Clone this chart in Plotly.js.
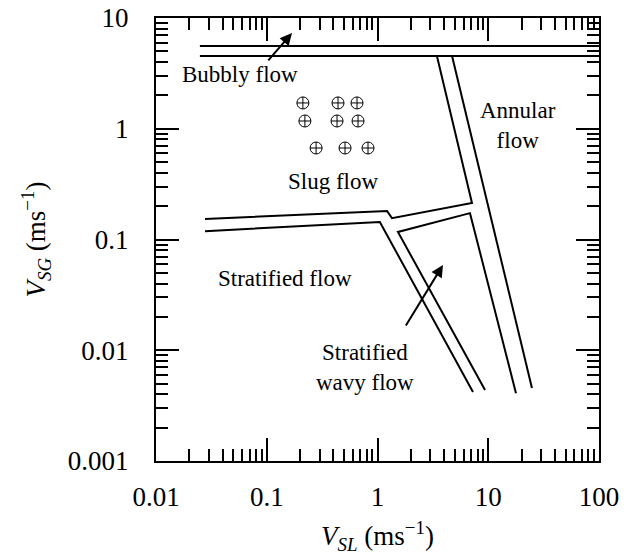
<!DOCTYPE html>
<html>
<head>
<meta charset="utf-8">
<script src="https://cdn.plot.ly/plotly-3.0.1.min.js"></script>
<style>html,body{margin:0;padding:0;background:#fff;}</style>
</head>
<body>
<div id="chart" style="width:634px;height:555px;"></div>
<script>
// Boundary lines (VSL, VSG in m/s)
const bubblyUpperX = [0.0249, 100];
const bubblyUpperY = [5.59, 5.59];
const bubblyLowerX = [0.0249, 100];
const bubblyLowerY = [4.54, 4.54];
const slugUpperX = [0.0277, 1.22, 1.35, 7.13, 3.44];
const slugUpperY = [0.153, 0.181, 0.156, 0.214, 4.54];
const stratLowerX = [0.0277, 1.05, 7.28];
const stratLowerY = [0.119, 0.144, 0.0042];
const wavyX = [9.35, 1.53, 6.84, 17.8];
const wavyY = [0.00437, 0.117, 0.173, 0.0041];
const annularX = [4.71, 24.8];
const annularY = [4.54, 0.00456];
// Data points (circle-cross symbols)
const pointsX = [0.212, 0.44, 0.653, 0.221, 0.431, 0.667, 0.279, 0.509, 0.821];
const pointsY = [1.71, 1.71, 1.71, 1.175, 1.175, 1.175, 0.67, 0.67, 0.67];
// Tick labels
const xTickVals = [0.01, 0.1, 1, 10, 100];
const xTickText = ["0.01", "0.1", "1", "10", "100"];
const yTickVals = [0.001, 0.01, 0.1, 1, 10];
const yTickText = ["0.001", "0.01", "0.1", "1", "10"];
// Region labels
const labelText = ["Bubbly flow", "Annular<br>flow", "Slug flow", "Stratified flow", "Stratified<br>wavy flow"];
const labelX = [0.0573, 18.6, 0.396, 0.146, 0.771];
const labelY = [3.06, 1.06, 0.337, 0.0449, 0.00692];
// Arrows
const arrowTailX = [0.1005, 1.77];
const arrowTailY = [4.01, 0.0162];
const arrowHeadX = [0.169, 3.90];
const arrowHeadY = [7.32, 0.0589];

const serif = "Liberation Serif";
const lineStyle = {color: "black", width: 2};
function lineTrace(x, y) {
  return {x: x, y: y, type: "scatter", mode: "lines", line: lineStyle, hoverinfo: "skip", showlegend: false};
}
const traces = [
  lineTrace(bubblyUpperX, bubblyUpperY),
  lineTrace(bubblyLowerX, bubblyLowerY),
  lineTrace(slugUpperX, slugUpperY),
  lineTrace(stratLowerX, stratLowerY),
  lineTrace(wavyX, wavyY),
  lineTrace(annularX, annularY),
  {x: pointsX, y: pointsY, type: "scatter", mode: "markers", showlegend: false,
   marker: {symbol: "circle-cross-open", size: 12, color: "black", line: {width: 1, color: "black"}}}
];

const annotations = [];
for (let i = 0; i < labelText.length; i++) {
  annotations.push({x: Math.log10(labelX[i]), y: Math.log10(labelY[i]), xref: "x", yref: "y",
    text: labelText[i], showarrow: false, font: {family: serif, size: 23, color: "black"}, align: "center"});
}
for (let i = 0; i < arrowTailX.length; i++) {
  annotations.push({x: Math.log10(arrowHeadX[i]), y: Math.log10(arrowHeadY[i]), xref: "x", yref: "y",
    ax: Math.log10(arrowTailX[i]), ay: Math.log10(arrowTailY[i]), axref: "x", ayref: "y",
    text: "", showarrow: true, arrowhead: 2, arrowsize: 1.2, arrowwidth: 2, arrowcolor: "black"});
}

const axisCommon = {
  type: "log", showgrid: false, zeroline: false, showline: true, linewidth: 2, linecolor: "black",
  mirror: "allticks", ticks: "inside", ticklen: 23, tickwidth: 2, tickcolor: "black",
  tickfont: {family: serif, size: 27, color: "black"},
  minor: {ticks: "inside", ticklen: 12, tickwidth: 2, tickcolor: "black", dtick: "D1", showgrid: false}
};
const layout = {
  width: 634, height: 555,
  margin: {l: 156, r: 35, t: 18, b: 94},
  paper_bgcolor: "white", plot_bgcolor: "white",
  font: {family: serif, color: "black"},
  showlegend: false,
  xaxis: Object.assign({}, axisCommon, {
    range: [-2, 2], tickmode: "array", tickvals: xTickVals, ticktext: xTickText,
    ticklabelstandoff: 11,
    title: {text: "<i>V</i><sub><i>SL</i></sub> (ms<sup>−1</sup>)", font: {family: serif, size: 27, color: "black"}, standoff: 18}
  }),
  yaxis: Object.assign({}, axisCommon, {
    range: [-3, 1], tickmode: "array", tickvals: yTickVals, ticktext: yTickText,
    ticklabelstandoff: 20,
    title: {text: "<i>V</i><sub><i>SG</i></sub> (ms<sup>−1</sup>)", font: {family: serif, size: 27, color: "black"}, standoff: 14}
  }),
  annotations: annotations
};
Plotly.newPlot("chart", traces, layout, {displayModeBar: false, staticPlot: true});
</script>
</body>
</html>
